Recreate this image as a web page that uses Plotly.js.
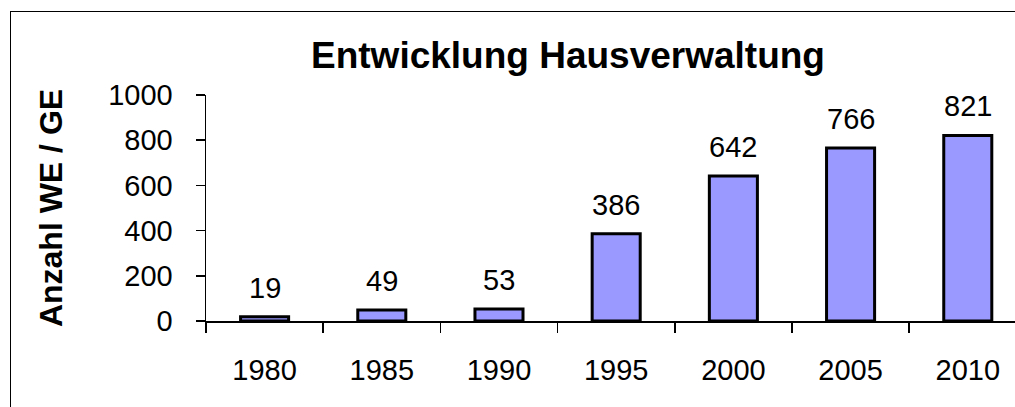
<!DOCTYPE html>
<html>
<head>
<meta charset="utf-8">
<script src="https://cdn.plot.ly/plotly-3.0.1.min.js"></script>
<style>
  html, body { margin: 0; padding: 0; background: #fff; }
  #wrap { position: relative; width: 1015px; height: 407px; overflow: hidden; }
  #chart { width: 1015px; height: 407px; }
  #frame { position: absolute; left: 10px; top: 11px; width: 1100px; height: 500px;
           border-left: 1.5px solid #000; border-top: 1.5px solid #000; pointer-events: none; }
</style>
</head>
<body>
<div id="wrap">
  <div id="chart"></div>
  <div id="frame"></div>
</div>
<script>
const years = ['1980', '1985', '1990', '1995', '2000', '2005', '2010'];
const counts = [19, 49, 53, 386, 642, 766, 821];
const yTicks = [0, 200, 400, 600, 800, 1000];
const chartTitle = 'Entwicklung Hausverwaltung';
const yTitle = 'Anzahl WE / GE';

const FONT = '"Liberation Sans", Arial, sans-serif';

const trace = {
  type: 'bar',
  x: years,
  y: counts,
  width: 0.41,
  marker: { color: '#9999FF', line: { color: '#000000', width: 3 } },
  hoverinfo: 'x+y'
};

const labels = years.map((yr, i) => ({
  x: i, y: counts[i], text: String(counts[i]),
  showarrow: false, xref: 'x', yref: 'y',
  xanchor: 'center', yanchor: 'bottom', yshift: 11,
  font: { family: FONT, size: 29, color: '#000' }
}));

const layout = {
  width: 1015, height: 407,
  margin: { l: 206, r: 0, t: 95, b: 86 },
  paper_bgcolor: '#fff', plot_bgcolor: '#fff',
  showlegend: false,
  font: { family: FONT, color: '#000' },
  title: {
    text: '<b>' + chartTitle + '</b>',
    font: { family: FONT, size: 37, color: '#000' },
    x: 0.5596, xanchor: 'center', y: 0.865, yanchor: 'middle'
  },
  xaxis: {
    type: 'category',
    range: [-0.5, 6.403],
    showline: true, linecolor: '#000', linewidth: 2,
    ticks: 'outside', tickson: 'boundaries', ticklen: 10, tickwidth: 1.5, tickcolor: '#000',
    tickfont: { family: FONT, size: 29, color: '#000' },
    ticklabelstandoff: 22,
    showgrid: false, zeroline: false, fixedrange: true
  },
  yaxis: {
    range: [0, 1000],
    tickvals: yTicks,
    ticktext: yTicks.map(String),
    showline: true, linecolor: '#000', linewidth: 1.5,
    ticks: 'outside', ticklen: 9, tickwidth: 1.5, tickcolor: '#000',
    tickfont: { family: FONT, size: 29, color: '#000' },
    ticklabelstandoff: 17,
    showgrid: false, zeroline: false, fixedrange: true,
    title: {
      text: '<b>' + yTitle + '</b>',
      font: { family: FONT, size: 32, color: '#000' },
      standoff: 36
    }
  },
  annotations: labels
};

Plotly.newPlot('chart', [trace], layout, { displayModeBar: false, staticPlot: true });
</script>
</body>
</html>
